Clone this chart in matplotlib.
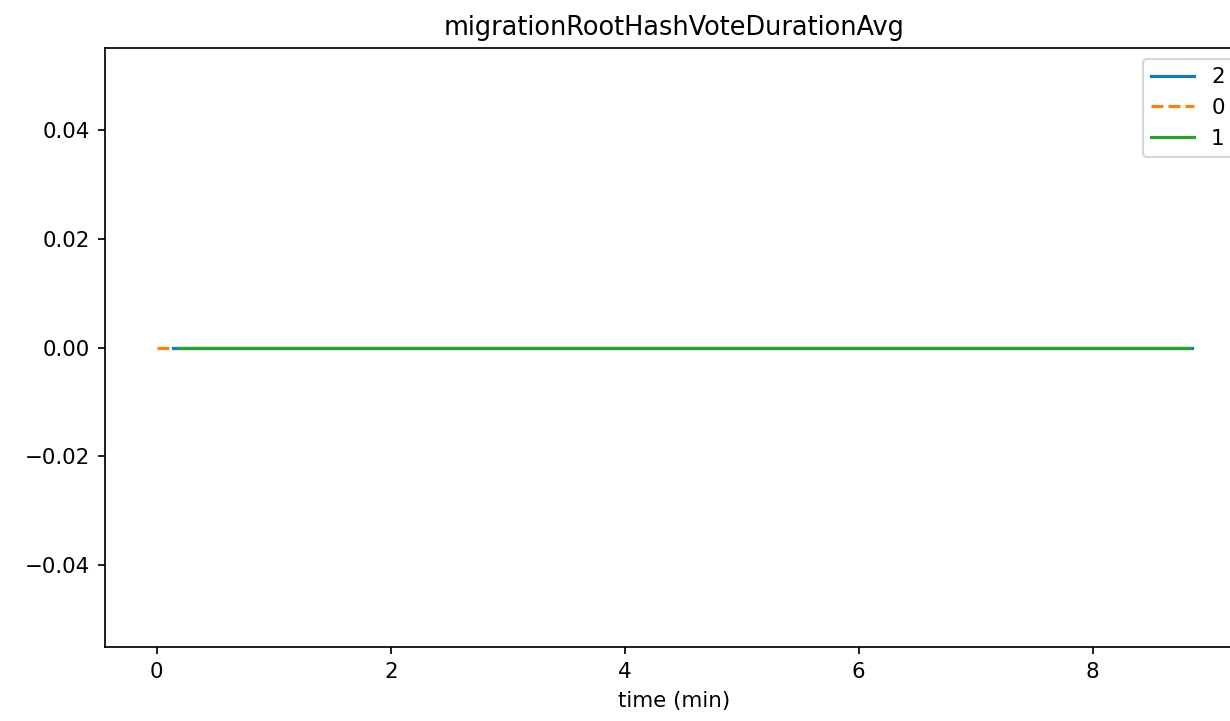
import matplotlib
matplotlib.use('Agg')
import matplotlib.pyplot as plt

# time (min) and values for each node
t2 = [0.14, 1.0, 2.0, 3.0, 4.0, 5.0, 6.0, 7.0, 8.0, 8.85]
v2 = [0.0, 0.0, 0.0, 0.0, 0.0, 0.0, 0.0, 0.0, 0.0, 0.0]
t0 = [0.0, 0.13]
v0 = [0.0, 0.0]
t1 = [0.19, 1.0, 2.0, 3.0, 4.0, 5.0, 6.0, 7.0, 8.0, 8.82]
v1 = [0.0, 0.0, 0.0, 0.0, 0.0, 0.0, 0.0, 0.0, 0.0, 0.0]

dpi = 154
fig = plt.figure(figsize=(1230 / dpi, 721 / dpi), dpi=dpi)
ax = fig.add_axes([0.0854, 0.1026, 0.926, 0.8308])

ax.plot(t2, v2, '-', color='C0', label='2')
ax.plot(t0, v0, '--', color='C1', label='0')
ax.plot(t1, v1, '-', color='C2', label='1')

ax.set_title('migrationRootHashVoteDurationAvg')
ax.set_xlabel('time (min)')
ax.legend(loc='upper right')

fig.savefig('out.png', dpi=dpi)
